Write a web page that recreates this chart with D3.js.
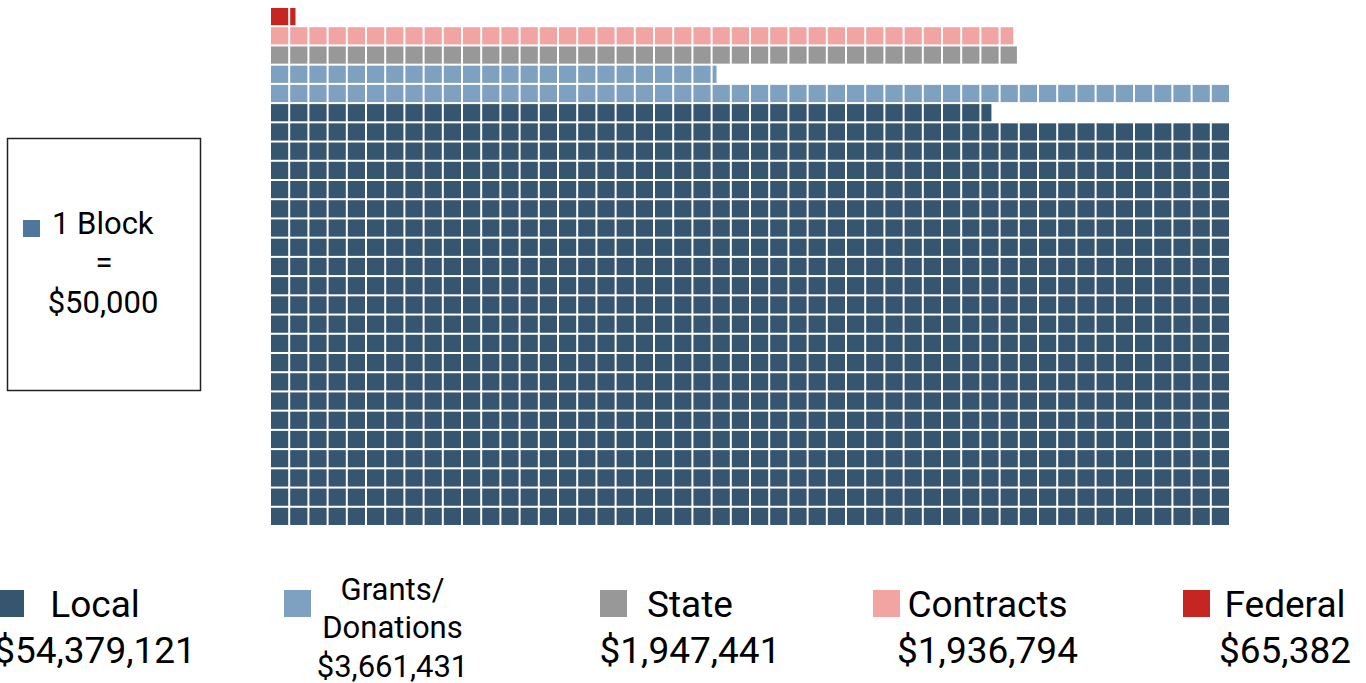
<!DOCTYPE html>
<html>
<head>
<meta charset="utf-8">
<script src="https://cdn.jsdelivr.net/npm/d3@7"></script>
<style>
  body { margin: 0; background: #fff; }
  svg { display: block; font-family: Roboto, 'Noto Sans', sans-serif; }
</style>
</head>
<body>
<div id="chart"></div>
<script>
'use strict';

// data
var categories = ['Local', 'Grants/ Donations', 'State', 'Contracts', 'Federal'];
var values = [54379121, 3661431, 1947441, 1936794, 65382];
var colors = ['#36556f', '#7fa1c1', '#989898', '#f1a4a2', '#c52622'];
var valueLabels = ['$54,379,121', '$3,661,431', '$1,947,441', '$1,936,794', '$65,382'];
var blockValue = 50000;
var columns = 50;

var width = 1366, height = 683;
var svg = d3.select('#chart').append('svg')
  .attr('width', width)
  .attr('height', height);

// lay out blocks: each category starts a new row, filled bottom-up, left to right
var blocks = [];
var row = 0;
categories.forEach(function (c, i) {
  var n = values[i] / blockValue;
  var full = Math.floor(n);
  var frac = n - full;
  var k;
  for (k = 0; k < full; k++) {
    blocks.push({ cat: i, col: k % columns, row: row + Math.floor(k / columns), frac: 1 });
  }
  if (frac > 0.001) {
    blocks.push({ cat: i, col: full % columns, row: row + Math.floor(full / columns), frac: frac });
  }
  row += Math.ceil(n / columns);
});
var totalRows = row;

var gap = 2;
var x = d3.scaleLinear().domain([0, columns]).range([271, 1229 + gap]);
var y = d3.scaleLinear().domain([0, totalRows]).range([525 + gap, 8]);
var size = x(1) - x(0) - gap;

svg.append('g').selectAll('rect')
  .data(blocks)
  .enter()
  .append('rect')
  .attr('x', function (d) { return x(d.col); })
  .attr('y', function (d) { return y(d.row + 1); })
  .attr('width', function (d) { return size * d.frac; })
  .attr('height', size)
  .attr('fill', function (d) { return colors[d.cat]; });

// key box
var key = svg.append('g');
key.append('rect')
  .attr('x', 7.5).attr('y', 138.5)
  .attr('width', 193).attr('height', 252)
  .attr('fill', 'none')
  .attr('stroke', '#222')
  .attr('stroke-width', 1.5);
key.append('rect')
  .attr('x', 23).attr('y', 220)
  .attr('width', 17).attr('height', 17)
  .attr('fill', '#4f779e');
key.append('text').attr('x', 52).attr('y', 234)
  .attr('font-size', 31).text('1 Block');
key.append('text').attr('x', 104).attr('y', 273)
  .attr('text-anchor', 'middle').attr('font-size', 31).text('=');
key.append('text').attr('x', 103).attr('y', 313)
  .attr('text-anchor', 'middle').attr('font-size', 31).text('$50,000');

// legend
var legendX = d3.scaleLinear().domain([0, 4]).range([95, 1285]);
var swatchX = [-3, 284, 600, 873, 1183];

var legend = svg.append('g').selectAll('g')
  .data(categories)
  .enter()
  .append('g');

legend.append('rect')
  .attr('x', function (d, i) { return swatchX[i]; })
  .attr('y', 590)
  .attr('width', 27).attr('height', 27)
  .attr('fill', function (d, i) { return colors[i]; });

legend.each(function (d, i) {
  var g = d3.select(this);
  var cx = legendX(i);
  if (i === 1) {
    var parts = d.split(' ');
    g.append('text').attr('x', cx).attr('y', 600)
      .attr('text-anchor', 'middle').attr('font-size', 31).text(parts[0]);
    g.append('text').attr('x', cx).attr('y', 638)
      .attr('text-anchor', 'middle').attr('font-size', 31).text(parts[1]);
    g.append('text').attr('x', cx).attr('y', 677)
      .attr('text-anchor', 'middle').attr('font-size', 31).text(valueLabels[i]);
  } else {
    g.append('text').attr('x', cx).attr('y', 617)
      .attr('text-anchor', 'middle').attr('font-size', 37).text(d);
    g.append('text').attr('x', cx).attr('y', 663)
      .attr('text-anchor', 'middle').attr('font-size', 37).text(valueLabels[i]);
  }
});
</script>
</body>
</html>
